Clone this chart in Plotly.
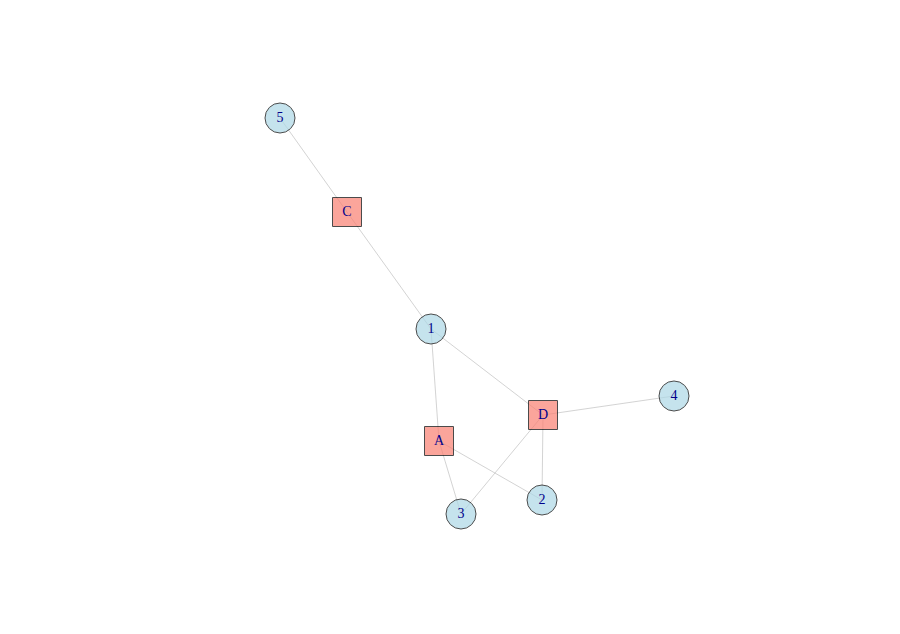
import plotly.graph_objects as go

node_names = ["5", "C", "1", "4", "D", "A", "2", "3"]
node_x = [272, 339, 423, 666, 535, 431, 534, 453]
node_y = [110, 204, 321, 388, 407, 433, 492, 506]
node_type = ["circle", "square", "circle", "circle", "square", "square", "circle", "circle"]
edges = [("5", "C"), ("C", "1"), ("1", "A"), ("1", "D"), ("D", "4"),
         ("D", "2"), ("D", "3"), ("A", "2"), ("A", "3")]

pos = {n: (x, y) for n, x, y in zip(node_names, node_x, node_y)}
ex, ey = [], []
for a, b in edges:
    ex += [pos[a][0], pos[b][0], None]
    ey += [pos[a][1], pos[b][1], None]

fig = go.Figure()
fig.add_trace(go.Scatter(x=ex, y=ey, mode="lines",
                         line=dict(color="#C8C8C8", width=0.8), hoverinfo="skip"))
fig.add_trace(go.Scatter(
    x=node_x, y=node_y, mode="markers+text", text=node_names,
    textposition="middle center",
    textfont=dict(family="Liberation Serif", size=14, color="#00008B"),
    marker=dict(symbol=node_type, size=[30 if t == "circle" else 29 for t in node_type],
                color=["#ADD8E6" if t == "circle" else "#FA8072" for t in node_type],
                line=dict(color="black", width=1))))
fig.update_layout(width=900, height=634, margin=dict(l=0, r=0, t=0, b=0),
                  plot_bgcolor="white", paper_bgcolor="white", showlegend=False,
                  xaxis=dict(range=[0, 900], visible=False),
                  yaxis=dict(range=[634, 0], visible=False))
fig.write_html("out.html")
